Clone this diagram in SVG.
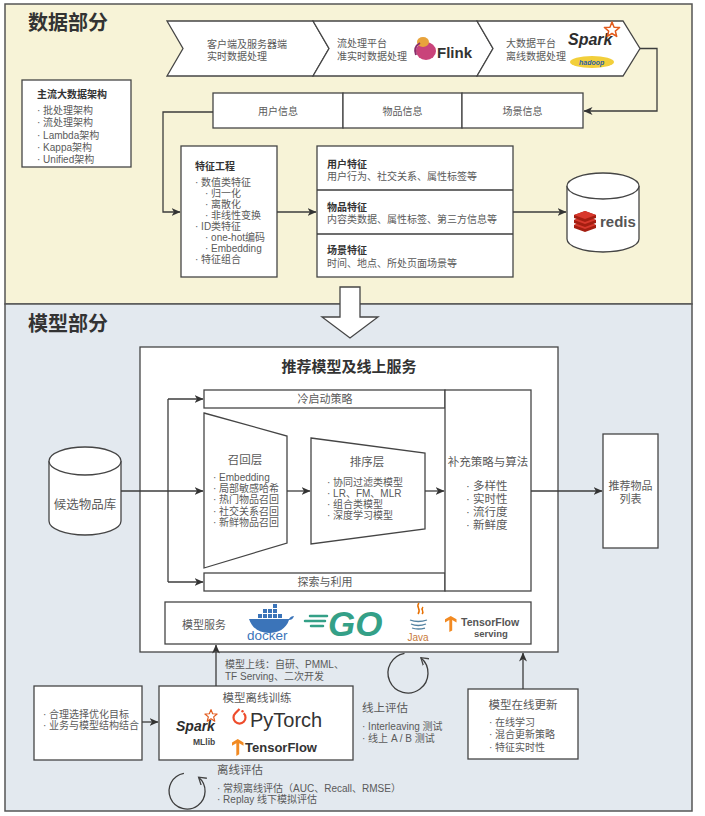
<svg xmlns="http://www.w3.org/2000/svg" width="705" height="816" viewBox="0 0 705 816">
<defs>
<marker id="ah" markerWidth="9" markerHeight="8" refX="8.5" refY="4" orient="auto" markerUnits="userSpaceOnUse">
<path d="M0,0 L9,4 L0,8 L2.5,4 z" fill="#333"/>
</marker>
<marker id="oh" markerWidth="10" markerHeight="10" refX="7" refY="5" orient="auto" markerUnits="userSpaceOnUse">
<path d="M0,0.5 L7,5 L0,9.5" fill="none" stroke="#444" stroke-width="1.3"/>
</marker>
<path id="star" d="M0,-8 L2.06,-2.83 L7.61,-2.47 L3.33,1.08 L4.7,6.47 L0,3.5 L-4.7,6.47 L-3.33,1.08 L-7.61,-2.47 L-2.06,-2.83 Z" fill="none" stroke="#e25a1c" stroke-width="1.5" stroke-linejoin="round"/>
<path id="tf" d="M0,4 L8,0 L16,4 L16,8 L10,5 L10,18 L6,20 L6,5 L0,8 Z" fill="#f28a22"/>
<style>
.box{fill:#fff;stroke:#454545;stroke-width:1.3}
.ln{fill:none;stroke:#3d3d3d;stroke-width:1.3}
.t{font-family:"Liberation Sans","Noto Sans CJK SC",sans-serif;font-size:10px;fill:#5a5a5a}
.b{font-family:"Liberation Sans","Noto Sans CJK SC",sans-serif;font-weight:bold;fill:#333}
.m{text-anchor:middle}
.s11{font-size:11px}
.s115{font-size:11.5px}
</style>
</defs>

<g id="sections">
<rect x="5" y="4" width="687" height="300" fill="#f7f3d7" stroke="#555" stroke-width="1.5"/>
<rect x="5" y="304" width="687" height="507" fill="#e3e9ef" stroke="#555" stroke-width="1.5"/>
<text class="b" x="28" y="30" style="font-size:20px">数据部分</text>
<text class="b" x="28" y="331" style="font-size:20px">模型部分</text>
</g>

<g id="chevron-client">
<polygon class="box" points="167,21 313,21 329,48.5 313,76 167,76 183,48.5"/>
<text class="t" x="207" y="47.5">客户端及服务器端</text>
<text class="t" x="207" y="60">实时数据处理</text>
</g>
<g id="chevron-stream">
<polygon class="box" points="313,21 477,21 493,48.5 477,76 313,76 329,48.5"/>
<text class="t" x="337" y="47">流处理平台</text>
<text class="t" x="337" y="60">准实时数据处理</text>
<ellipse cx="426" cy="51" rx="10" ry="9" fill="#c9437a"/>
<ellipse cx="423" cy="42" rx="6" ry="5" fill="#e8a33c"/>
<path d="M416,55 q-3,-8 4,-12" stroke="#8a2e6a" stroke-width="2" fill="none"/>
<text class="b" x="437" y="58" style="font-size:15px">Flink</text>
</g>
<g id="chevron-bigdata">
<polygon class="box" points="477,21 623,21 640,48.5 623,76 477,76 493,48.5"/>
<text class="t" x="506" y="47">大数据平台</text>
<text class="t" x="506" y="60">离线数据处理</text>
<text class="b" x="568" y="45" style="font-size:16px;font-style:italic;fill:#2d2d2d">Spark</text>
<use href="#star" transform="translate(612,30)"/>
<ellipse cx="592" cy="62" rx="22" ry="6" fill="#f2cf3b"/>
<text class="b" x="579" y="64.5" style="font-size:7px;font-style:italic;fill:#2a5ea8">hadoop</text>
</g>

<g id="arch-box">
<rect class="box" x="22" y="80" width="109" height="87"/>
<text class="b" x="37" y="98" style="font-size:10px">主流大数据架构</text>
<text class="t" x="37" y="114">· 批处理架构</text>
<text class="t" x="37" y="126">· 流处理架构</text>
<text class="t" x="37" y="139">· Lambda架构</text>
<text class="t" x="37" y="151">· Kappa架构</text>
<text class="t" x="37" y="163">· Unified架构</text>
</g>

<g id="info-row">
<rect class="box" x="213" y="93" width="130" height="35"/>
<rect class="box" x="343" y="93" width="119" height="35"/>
<rect class="box" x="462" y="93" width="121" height="35"/>
<text class="t m" x="278" y="114.5">用户信息</text>
<text class="t m" x="402.5" y="114.5">物品信息</text>
<text class="t m" x="522.5" y="114.5">场景信息</text>
</g>

<g id="feature-engineering">
<rect class="box" x="181" y="146" width="96" height="131"/>
<text class="b" x="195" y="170" style="font-size:10px">特征工程</text>
<text class="t" x="195" y="186">· 数值类特征</text>
<text class="t" x="205" y="197">· 归一化</text>
<text class="t" x="205" y="208">· 离散化</text>
<text class="t" x="205" y="219">· 非线性变换</text>
<text class="t" x="195" y="230">· ID类特征</text>
<text class="t" x="205" y="241">· one-hot编码</text>
<text class="t" x="205" y="252">· Embedding</text>
<text class="t" x="195" y="263">· 特征组合</text>
</g>

<g id="features">
<rect class="box" x="317" y="146" width="196" height="131"/>
<line class="ln" x1="317" y1="190" x2="513" y2="190"/>
<line class="ln" x1="317" y1="234" x2="513" y2="234"/>
<text class="b" x="327" y="168" style="font-size:10px">用户特征</text>
<text class="t" x="327" y="180">用户行为、社交关系、属性标签等</text>
<text class="b" x="327" y="211" style="font-size:10px">物品特征</text>
<text class="t" x="327" y="223">内容类数据、属性标签、第三方信息等</text>
<text class="b" x="327" y="254" style="font-size:10px">场景特征</text>
<text class="t" x="327" y="267">时间、地点、所处页面场景等</text>
</g>

<g id="redis">
<path class="box" d="M567,186 V239 A36,13 0 0 0 639,239 V186"/>
<ellipse class="box" cx="603" cy="186" rx="36" ry="13"/>
<path d="M574,225 L585,221 L596,225 L596,228 L585,232 L574,228 Z" fill="#a41e11"/>
<path d="M574,225 L585,221 L596,225 L585,229 Z" fill="#d8382c"/>
<path d="M574,220 L585,216 L596,220 L596,223 L585,227 L574,223 Z" fill="#a41e11"/>
<path d="M574,220 L585,216 L596,220 L585,224 Z" fill="#d8382c"/>
<path d="M574,215 L585,211 L596,215 L596,218 L585,222 L574,218 Z" fill="#a41e11"/>
<path d="M574,215 L585,211 L596,215 L585,219 Z" fill="#d8382c"/>
<text class="b" x="600" y="227" style="font-size:15px;fill:#555">redis</text>
</g>

<g id="big-arrow">
<polygon points="340,287 360,287 360,317 378,317 350,338 322,317 340,317" fill="#fff" stroke="#454545" stroke-width="1.3"/>
</g>

<g id="rec-service">
<rect class="box" x="140" y="347" width="418" height="305"/>
<text class="b m" x="349" y="372" style="font-size:15px">推荐模型及线上服务</text>
</g>

<g id="cold-start">
<rect class="box" x="204" y="390" width="241" height="18"/>
<text class="t m s11" x="325" y="403">冷启动策略</text>
</g>
<g id="explore">
<rect class="box" x="204" y="573" width="241" height="18"/>
<text class="t m s11" x="325" y="586">探索与利用</text>
</g>
<g id="supplement">
<rect class="box" x="445" y="390" width="86" height="201"/>
<text class="t m s115" x="488" y="466">补充策略与算法</text>
<text class="t s115" x="466" y="490">· 多样性</text>
<text class="t s115" x="466" y="503">· 实时性</text>
<text class="t s115" x="466" y="516">· 流行度</text>
<text class="t s115" x="466" y="529">· 新鲜度</text>
</g>
<g id="recall">
<polygon class="box" points="204,413 287,436 287,543 204,568"/>
<text class="t m s115" x="245" y="464">召回层</text>
<text class="t" x="213" y="480.5">· Embedding</text>
<text class="t" x="213" y="491.5">· 局部敏感哈希</text>
<text class="t" x="213" y="503">· 热门物品召回</text>
<text class="t" x="213" y="514.5">· 社交关系召回</text>
<text class="t" x="213" y="526">· 新鲜物品召回</text>
</g>
<g id="ranking">
<polygon class="box" points="311,438 425,453 425,529 311,544"/>
<text class="t m s115" x="367" y="466">排序层</text>
<text class="t" x="327" y="486">· 协同过滤类模型</text>
<text class="t" x="327" y="497">· LR、FM、MLR</text>
<text class="t" x="327" y="508">· 组合类模型</text>
<text class="t" x="327" y="519">· 深度学习模型</text>
</g>

<g id="candidates">
<path class="box" d="M49,461 V521 A36,14 0 0 0 121,521 V461"/>
<ellipse class="box" cx="85" cy="461" rx="36" ry="14"/>
<text class="t m" x="85" y="509" style="font-size:12.5px">候选物品库</text>
</g>

<g id="rec-list">
<rect class="box" x="603" y="434" width="55" height="114"/>
<text class="t m s11" x="630.5" y="490">推荐物品</text>
<text class="t m s11" x="630.5" y="503">列表</text>
</g>

<g id="model-serving">
<rect class="box" x="165" y="602" width="366" height="42"/>
<text class="t s11" x="182" y="629">模型服务</text>
<path d="M253,619 H289 c1,-2 3,-3 5,-3 c-1,3 -3,4 -5,4 c-3,9 -11,13 -20,13 c-10,0 -17,-5 -20,-14 z" fill="#3b74b9"/>
<g fill="#3b74b9">
<rect x="258" y="614" width="4" height="4"/><rect x="263" y="614" width="4" height="4"/><rect x="268" y="614" width="4" height="4"/><rect x="273" y="614" width="4" height="4"/><rect x="278" y="614" width="4" height="4"/>
<rect x="263" y="609" width="4" height="4"/><rect x="268" y="609" width="4" height="4"/><rect x="273" y="609" width="4" height="4"/>
<rect x="273" y="604" width="4" height="4"/>
</g>
<text class="t" x="247" y="640" style="font-size:13.5px;fill:#3b74b9">docker</text>
<g stroke="#34a087" stroke-width="2.5" stroke-linecap="round">
<line x1="310" y1="616" x2="327" y2="616"/><line x1="305" y1="621" x2="325" y2="621"/><line x1="311" y1="626" x2="323" y2="626"/>
</g>
<text class="b" x="328" y="636" style="font-size:35px;font-style:italic;fill:#34a087">GO</text>
<path d="M419,603 c-4,4 3,6 -1,11 M423,607 c-3,3 2,4 -1,7" stroke="#e76f00" fill="none" stroke-width="1.5"/>
<path d="M410,620 q8,3 17,0 M411,624 q7,3 15,0 M412,628 q6,2 13,0" stroke="#5382a1" fill="none" stroke-width="1.3"/>
<text class="t m" x="418" y="641" style="fill:#c97a3a">Java</text>
<use href="#tf" transform="translate(445,616) scale(0.72,0.8)"/>
<text class="b" x="461" y="626" style="font-size:10.5px;fill:#555">TensorFlow</text>
<text class="b" x="474" y="637" style="font-size:9.5px;fill:#555">serving</text>
</g>

<g id="objective">
<rect class="box" x="34" y="686" width="108" height="74"/>
<text class="t" x="43" y="718">· 合理选择优化目标</text>
<text class="t" x="43" y="729">· 业务与模型结构结合</text>
</g>

<g id="offline-training">
<rect class="box" x="159" y="686" width="194" height="74"/>
<text class="t m s115" x="257" y="702">模型离线训练</text>
<text class="b" x="176" y="731" style="font-size:14px;font-style:italic;fill:#2d2d2d">Spark</text>
<use href="#star" transform="translate(211,716) scale(0.8)"/>
<text class="b" x="193" y="745" style="font-size:8.5px;fill:#444">MLlib</text>
<path d="M239.5,709 L235.3,713.3 A6,6 0 1 0 243.7,713.3" fill="none" stroke="#ee4c2c" stroke-width="2.2"/>
<circle cx="242.5" cy="711.3" r="1.2" fill="#ee4c2c"/>
<text x="250" y="727" font-family="Liberation Sans, sans-serif" font-size="20" fill="#333">PyTorch</text>
<use href="#tf" transform="translate(232,739) scale(0.72,0.85)"/>
<text class="b" x="245" y="752" style="font-size:13px">TensorFlow</text>
</g>

<g id="online-update">
<rect class="box" x="468" y="689" width="110" height="70"/>
<text class="t m s115" x="523" y="709">模型在线更新</text>
<text class="t" x="489" y="725.5">· 在线学习</text>
<text class="t" x="489" y="738">· 混合更新策略</text>
<text class="t" x="489" y="750.5">· 特征实时性</text>
</g>

<g id="labels">
<text class="t" x="225" y="668">模型上线：自研、PMML、</text>
<text class="t" x="225" y="680">TF Serving、二次开发</text>
<text class="t s115" x="362" y="712">线上评估</text>
<text class="t" x="362" y="729.5">· Interleaving 测试</text>
<text class="t" x="362" y="741.5">· 线上 A / B 测试</text>
<text class="t s115" x="217" y="774">离线评估</text>
<text class="t" x="217" y="791.5">· 常规离线评估（AUC、Recall、RMSE）</text>
<text class="t" x="217" y="802.5">· Replay 线下模拟评估</text>
</g>

<g id="connectors">
<path class="ln" d="M640,48.5 H657 V111 H584" marker-end="url(#ah)"/>
<path class="ln" d="M213,112 H163 V212 H180" marker-end="url(#ah)"/>
<path class="ln" d="M277,212 H316" marker-end="url(#ah)"/>
<path class="ln" d="M513,212 H566" marker-end="url(#ah)"/>
<path class="ln" d="M121,491 H203" marker-end="url(#ah)"/>
<path class="ln" d="M168,399 V582"/>
<path class="ln" d="M168,399 H203" marker-end="url(#ah)"/>
<path class="ln" d="M168,582 H203" marker-end="url(#ah)"/>
<path class="ln" d="M287,491 H310" marker-end="url(#ah)"/>
<path class="ln" d="M425,491 H444" marker-end="url(#ah)"/>
<path class="ln" d="M531,491 H602" marker-end="url(#ah)"/>
<path class="ln" d="M216,686 V645" marker-end="url(#ah)"/>
<path class="ln" d="M142,722 H158" marker-end="url(#ah)"/>
<path class="ln" d="M523,689 V653" marker-end="url(#ah)"/>
<path class="ln" d="M404.5,653.3 A20,20 0 1 0 420.9,657.7" marker-end="url(#oh)"/>
<path class="ln" d="M183.9,773.3 A18,18 0 1 0 198.6,777.2" marker-end="url(#oh)"/>
</g>
</svg>
